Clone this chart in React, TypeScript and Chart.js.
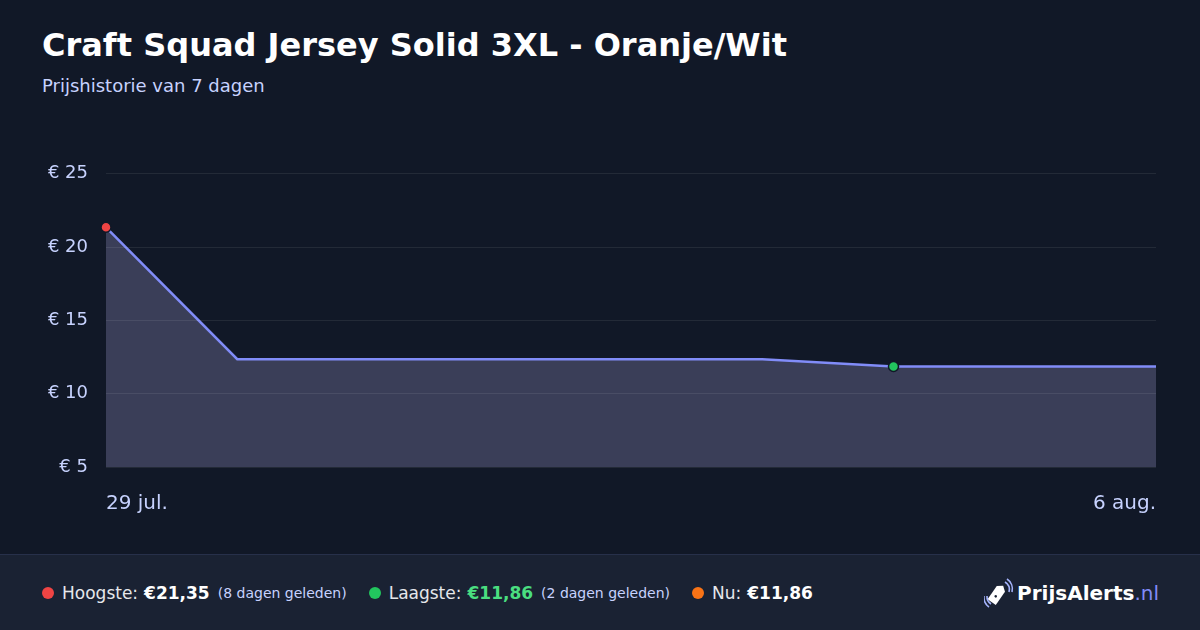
import React, { useEffect, useRef } from "react";
import { Chart, registerables } from "chart.js";

Chart.register(...registerables);

const dayLabels = ["29 jul.", "30 jul.", "31 jul.", "1 aug.", "2 aug.", "3 aug.", "4 aug.", "5 aug.", "6 aug."];
const prices = [21.35, 12.35, 12.35, 12.35, 12.35, 12.35, 11.86, 11.86, 11.86];
const yTicks = [5, 10, 15, 20, 25];
const highIndex = 0;
const lowIndex = 6;

const BG = "#111827";
const LABEL = "#c7d2fe";
const FONT = "'DejaVu Sans', sans-serif";

function PriceChart() {
  const ref = useRef<HTMLCanvasElement | null>(null);
  useEffect(() => {
    if (!ref.current) return;
    const radii = prices.map((_, i) => (i === highIndex || i === lowIndex ? 5 : 0));
    const colors = prices.map((_, i) => (i === highIndex ? "#ef4444" : i === lowIndex ? "#22c55e" : "#818cf8"));
    const chart = new Chart(ref.current, {
      type: "line",
      data: {
        labels: dayLabels,
        datasets: [
          {
            data: prices,
            borderColor: "#818cf8",
            borderWidth: 2.5,
            backgroundColor: "#3a3e58",
            fill: "start",
            tension: 0,
            pointRadius: radii,
            pointHoverRadius: radii,
            pointBackgroundColor: colors,
            pointBorderColor: BG,
            pointBorderWidth: 1.5,
            clip: false as any,
          },
        ],
      },
      options: {
        animation: false,
        responsive: true,
        maintainAspectRatio: false,
        layout: { padding: { left: 0, right: 44, top: 18, bottom: 0 } },
        plugins: { legend: { display: false }, tooltip: { enabled: false } },
        scales: {
          x: {
            grid: { display: false },
            border: { display: false },
            afterFit: (s: any) => {
              s.height = 63;
            },
            ticks: {
              autoSkip: false,
              maxRotation: 0,
              align: "inner",
              padding: 17,
              color: LABEL,
              font: { family: FONT, size: 20 },
              callback: (_v: any, i: number) => (i === 0 || i === dayLabels.length - 1 ? dayLabels[i] : ""),
            },
          },
          y: {
            min: yTicks[0],
            max: yTicks[yTicks.length - 1],
            grid: { color: "rgba(255,255,255,0.08)", drawTicks: false, lineWidth: 1, z: 1 } as any,
            border: { display: false },
            afterFit: (s: any) => {
              s.width = 106;
            },
            afterBuildTicks: (s: any) => {
              s.ticks = yTicks.map((v) => ({ value: v }));
            },
            ticks: {
              padding: 18,
              color: LABEL,
              font: { family: FONT, size: 18 },
              callback: (v: any) => "€ " + v,
            },
          },
        },
      },
    });
    return () => chart.destroy();
  }, []);
  return (
    <div style={{ position: "absolute", left: 0, top: 145, width: 1200, height: 385 }}>
      <canvas ref={ref} />
    </div>
  );
}

function Dot({ color }: { color: string }) {
  return (
    <span
      style={{
        display: "inline-block",
        width: 12,
        height: 12,
        borderRadius: "50%",
        background: color,
        marginRight: 8,
        flex: "none",
      }}
    />
  );
}

function Logo() {
  return (
    <div style={{ position: "absolute", right: 41, top: 576, display: "flex", alignItems: "center", height: 34 }}>
      <svg width="30" height="30" viewBox="0 0 30 30" style={{ marginRight: 3 }}>
        <g transform="rotate(35 14 15)">
          <path d="M9 6 L19 6 L19 22 L14 26 L9 22 Z" fill="#ffffff" transform="rotate(180 14 16)" />
          <circle cx="14" cy="19" r="1.3" fill="#1a2233" />
        </g>
        <path d="M21 4 A 9 9 0 0 1 25 14" stroke="#a5b4fc" strokeWidth="1.6" fill="none" />
        <path d="M23 1 A 12 12 0 0 1 28 14" stroke="#a5b4fc" strokeWidth="1.6" fill="none" />
        <path d="M7 26 A 9 9 0 0 1 3 18" stroke="#a5b4fc" strokeWidth="1.6" fill="none" />
        <path d="M5 29 A 12 12 0 0 1 0 18" stroke="#a5b4fc" strokeWidth="1.6" fill="none" />
      </svg>
      <span style={{ fontFamily: FONT, fontSize: 20, fontWeight: 700, color: "#ffffff" }}>PrijsAlerts</span>
      <span style={{ fontFamily: FONT, fontSize: 20, color: "#818cf8" }}>.nl</span>
    </div>
  );
}

export default function App() {
  return (
    <div
      style={{
        position: "fixed",
        left: 0,
        top: 0,
        width: 1200,
        height: 630,
        background: BG,
        fontFamily: FONT,
        overflow: "hidden",
      }}
    >
      <div style={{ position: "absolute", left: 42, top: 26, fontSize: 32, fontWeight: 700, color: "#ffffff", whiteSpace: "nowrap" }}>
        Craft Squad Jersey Solid 3XL - Oranje/Wit
      </div>
      <div style={{ position: "absolute", left: 42, top: 75, fontSize: 18, color: LABEL }}>Prijshistorie van 7 dagen</div>
      <PriceChart />
      <div
        style={{
          position: "absolute",
          left: 0,
          top: 554,
          width: 1200,
          height: 76,
          background: "#1a2233",
          borderTop: "1px solid #27304a",
          boxSizing: "border-box",
        }}
      />
      <div
        style={{
          position: "absolute",
          left: 42,
          top: 583,
          height: 20,
          fontSize: 17,
          color: "#e5e7eb",
          whiteSpace: "nowrap",
          display: "flex",
          alignItems: "center",
        }}
      >
        <Dot color="#ef4444" />
        <span>Hoogste:</span>
        <b style={{ color: "#ffffff", marginLeft: 6 }}>€21,35</b>
        <span style={{ fontSize: 14, color: LABEL, marginLeft: 8 }}>(8 dagen geleden)</span>
        <span style={{ width: 22, display: "inline-block", flex: "none" }} />
        <Dot color="#22c55e" />
        <span>Laagste:</span>
        <b style={{ color: "#4ade80", marginLeft: 6 }}>€11,86</b>
        <span style={{ fontSize: 14, color: LABEL, marginLeft: 8 }}>(2 dagen geleden)</span>
        <span style={{ width: 22, display: "inline-block", flex: "none" }} />
        <Dot color="#f97316" />
        <span>Nu:</span>
        <b style={{ color: "#ffffff", marginLeft: 6 }}>€11,86</b>
      </div>
      <Logo />
    </div>
  );
}
